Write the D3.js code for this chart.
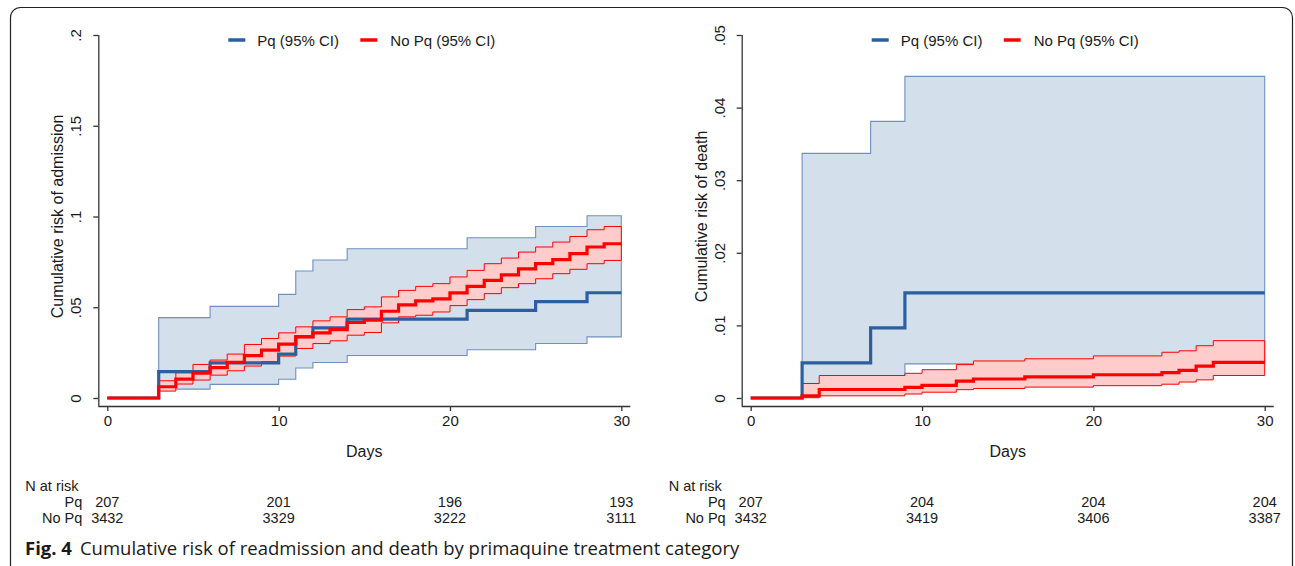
<!DOCTYPE html>
<html>
<head>
<meta charset="utf-8">
<script src="https://cdn.jsdelivr.net/npm/d3@7"></script>
<style>
  body { margin: 0; background: #fff; }
  svg { display: block; }
  text { font-family: "Liberation Sans", Arial, sans-serif; fill: #1a1a1a; }
</style>
</head>
<body>
<svg id="chart" width="1295" height="566"></svg>
<script>
// readmission panel - Pq group (step times in days)
const admPqTimes = [0, 3, 6, 10, 11, 12, 14, 21, 25, 28];
const admPqRisk  = [0, 0.0145, 0.0193, 0.0242, 0.0338, 0.0386, 0.0435, 0.0483, 0.0531, 0.0580];
const admPqLo    = [0, 0.0049, 0.0075, 0.0103, 0.0165, 0.0196, 0.0234, 0.0266, 0.0300, 0.0337];
const admPqHi    = [0, 0.0443, 0.0505, 0.0571, 0.0700, 0.0760, 0.0822, 0.0883, 0.0945, 0.1004];

// readmission panel - No Pq group
const admNoTimes = [0, 3, 4, 5, 6, 7, 8, 9, 10, 11, 12, 13, 14, 15, 16, 17, 18, 19, 20, 21, 22, 23, 24, 25, 26, 27, 28, 29];
const admNoRisk  = [0, .0062, .0104, .0137, .0167, .0196, .0234, .0264, .0297, .0337, .0359, .0377, .0416, .0429, .0478, .0513, .0535, .0546, .0579, .0615, .0648, .0678, .0711, .0740, .0762, .0795, .0832, .0850];
const admNoHi    = [0, .0095, .0139, .0185, .0209, .0242, .0295, .0328, .0359, .0392, .0425, .0447, .0487, .0502, .0557, .0593, .0615, .0630, .0667, .0703, .0740, .0771, .0804, .0832, .0859, .0890, .0927, .0945];
const admNoLo    = [0, .0038, .0077, .0099, .0126, .0150, .0176, .0200, .0231, .0273, .0300, .0315, .0346, .0361, .0414, .0447, .0456, .0474, .0509, .0542, .0575, .0608, .0630, .0657, .0685, .0709, .0740, .0758];

// death panel - Pq group
const dthPqTimes = [0, 3, 7, 9];
const dthPqRisk  = [0, 0.00483, 0.00966, 0.01449];
const dthPqLo    = [0, 0.0007, 0.0024, 0.0047];
const dthPqHi    = [0, 0.0337, 0.0381, 0.0443];

// death panel - No Pq group
const dthNoTimes = [0, 3, 4, 9, 10, 12, 13, 16, 20, 24, 25, 26, 27];
const dthNoRisk  = [0, .0003, .00117, .00146, .00175, .00233, .00262, .00291, .0032, .0035, .0038, .0044, .0049];
const dthNoHi    = [0, .0020, .0031, .0034, .0039, .0046, .0051, .0054, .0058, .0063, .0065, .0072, .0079];
const dthNoLo    = [0, .00004, .0003, .00055, .0008, .00115, .0013, .0015, .0017, .0019, .0022, .0025, .0031];

// axis ticks
const dayTicks = [0, 10, 20, 30];
const admTicks = [0, 0.05, 0.1, 0.15, 0.2];
const dthTicks = [0, 0.01, 0.02, 0.03, 0.04, 0.05];

// numbers at risk
const riskDays = [0, 10, 20, 30];
const admAtRiskPq = [207, 201, 196, 193];
const admAtRiskNo = [3432, 3329, 3222, 3111];
const dthAtRiskPq = [207, 204, 204, 204];
const dthAtRiskNo = [3432, 3419, 3406, 3387];

const blue = "#2c5f9f";
const blueFill = "#d3dfeb";
const blueEdge = "#6f90c0";
const red = "#ff0000";
const redFill = "#ffcccc";

const svg = d3.select("#chart");

// outer figure frame
svg.append("rect")
  .attr("x", 10.5).attr("y", 7.5)
  .attr("width", 1282).attr("height", 590)
  .attr("rx", 10)
  .attr("fill", "none")
  .attr("stroke", "#222")
  .attr("stroke-width", 1.2);

//turn parallel arrays into step points, extended to day 30
function steps(times, vals) {
  var pts = times.map((t, i) => ({ t: t, v: vals[i] }));
  pts.push({ t: 30, v: vals[vals.length - 1] });
  return pts;
}
function band(times, lo, hi) {
  var pts = [];
  for (var i = 1; i < times.length; i++) pts.push({ t: times[i], lo: lo[i], hi: hi[i] });
  pts.push({ t: 30, lo: lo[lo.length - 1], hi: hi[hi.length - 1] });
  return pts;
}

function drawPanel(p) {
  const x = d3.scaleLinear().domain([0, 30]).range([p.x0, p.x0 + 514]);
  const y = d3.scaleLinear().domain([0, p.yMax]).range([398, 35]);
  const g = svg.append("g");

  const area = d3.area().curve(d3.curveStepAfter)
    .x(d => x(d.t)).y0(d => y(d.lo)).y1(d => y(d.hi));
  const line = d3.line().curve(d3.curveStepAfter)
    .x(d => x(d.t)).y(d => y(d.v));

  //confidence bands
  g.append("path").datum(band(p.pq.times, p.pq.lo, p.pq.hi))
    .attr("d", area).attr("fill", blueFill)
    .attr("stroke", blueEdge).attr("stroke-width", 1.1);
  g.append("path").datum(band(p.no.times, p.no.lo, p.no.hi))
    .attr("d", area).attr("fill", redFill)
    .attr("stroke", red).attr("stroke-width", 1);

  //estimate lines
  g.append("path").datum(steps(p.pq.times, p.pq.risk))
    .attr("d", line).attr("fill", "none")
    .attr("stroke", blue).attr("stroke-width", 3.2);
  g.append("path").datum(steps(p.no.times, p.no.risk))
    .attr("d", line).attr("fill", "none")
    .attr("stroke", red).attr("stroke-width", 3.2);

  //axes
  const xAxis = g.append("g").attr("transform", "translate(0,406)")
    .call(d3.axisBottom(x).tickValues(dayTicks).tickSize(5).tickPadding(4));
  xAxis.select(".domain").attr("d", "M" + (p.x0 - 9) + ",0.5H" + (p.x0 + 523));
  const yAxis = g.append("g").attr("transform", "translate(" + (p.x0 - 9) + ",0)")
    .call(d3.axisLeft(y).tickValues(p.ticks).tickSize(5).tickFormat(p.fmt));
  yAxis.select(".domain").attr("d", "M0.5,35V406");
  yAxis.selectAll(".tick text")
    .attr("transform", "rotate(-90)")
    .attr("x", 0).attr("y", -17)
    .attr("dy", 0)
    .attr("text-anchor", "middle");
  g.selectAll(".domain, .tick line").attr("stroke", "#333").attr("stroke-width", 1.3);
  g.selectAll(".tick text").attr("font-size", 15)
    .attr("font-family", "Liberation Sans, Arial, sans-serif").attr("fill", "#1a1a1a");

  //titles
  g.append("text").attr("x", x(15)).attr("y", 457)
    .attr("text-anchor", "middle").attr("font-size", 16).text("Days");
  g.append("text")
    .attr("transform", "translate(" + (p.x0 - 44) + "," + y(p.yMax / 2) + ") rotate(-90)")
    .attr("text-anchor", "middle").attr("font-size", 16).text(p.title);

  //legend
  const lg = g.append("g");
  lg.append("line").attr("x1", p.x0 + 121).attr("x2", p.x0 + 138)
    .attr("y1", 40).attr("y2", 40).attr("stroke", blue).attr("stroke-width", 3.5);
  lg.append("text").attr("x", p.x0 + 150).attr("y", 45.5)
    .attr("font-size", 15).text("Pq (95% CI)");
  lg.append("line").attr("x1", p.x0 + 253).attr("x2", p.x0 + 270)
    .attr("y1", 40).attr("y2", 40).attr("stroke", red).attr("stroke-width", 3.5);
  lg.append("text").attr("x", p.x0 + 283).attr("y", 45.5)
    .attr("font-size", 15).text("No Pq (95% CI)");

  //numbers at risk table
  g.append("text").attr("x", p.x0 - 82).attr("y", 491)
    .attr("font-size", 14.5).text("N at risk");
  g.append("text").attr("x", p.x0 - 25).attr("y", 507)
    .attr("text-anchor", "end").attr("font-size", 14.5).text("Pq");
  g.append("text").attr("x", p.x0 - 25).attr("y", 523)
    .attr("text-anchor", "end").attr("font-size", 14.5).text("No Pq");
  riskDays.forEach((d, i) => {
    g.append("text").attr("x", x(d)).attr("y", 507)
      .attr("text-anchor", "middle").attr("font-size", 14.5).text(p.atPq[i]);
    g.append("text").attr("x", x(d)).attr("y", 523)
      .attr("text-anchor", "middle").attr("font-size", 14.5).text(p.atNo[i]);
  });
}

//stata style tick labels (.05 not 0.05)
function stataFmt(v) {
  if (v === 0) return "0";
  return d3.format("")(+v.toFixed(3)).replace(/^0/, "");
}

drawPanel({
  x0: 107.3, yMax: 0.2, ticks: admTicks, fmt: stataFmt,
  title: "Cumulative risk of admission",
  pq: { times: admPqTimes, risk: admPqRisk, lo: admPqLo, hi: admPqHi },
  no: { times: admNoTimes, risk: admNoRisk, lo: admNoLo, hi: admNoHi },
  atPq: admAtRiskPq, atNo: admAtRiskNo
});

drawPanel({
  x0: 750.7, yMax: 0.05, ticks: dthTicks, fmt: stataFmt,
  title: "Cumulative risk of death",
  pq: { times: dthPqTimes, risk: dthPqRisk, lo: dthPqLo, hi: dthPqHi },
  no: { times: dthNoTimes, risk: dthNoRisk, lo: dthNoLo, hi: dthNoHi },
  atPq: dthAtRiskPq, atNo: dthAtRiskNo
});

//figure caption
const cap = svg.append("text").attr("x", 25).attr("y", 555)
  .attr("font-size", 18.5)
  .style("font-family", "'Open Sans', 'Noto Sans', sans-serif");
cap.append("tspan").attr("font-weight", "bold").text("Fig. 4");
cap.append("tspan").attr("dx", 8)
  .text("Cumulative risk of readmission and death by primaquine treatment category");
</script>
</body>
</html>
